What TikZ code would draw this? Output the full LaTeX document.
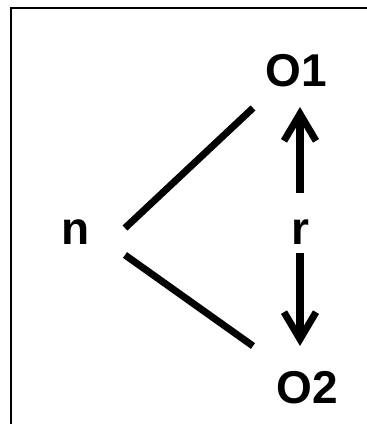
\documentclass[tikz,border=0pt]{standalone}
\usepackage{fontspec}
\setmainfont{Liberation Sans}
\usetikzlibrary{arrows.meta}
\begin{document}
\begin{tikzpicture}[x=1pt,y=-1pt,
  lbl/.style={font=\fontsize{46}{46}\selectfont\bfseries, inner sep=0pt},
  link/.style={line width=7pt},
  arr/.style={line width=7.5pt, -{Straight Barb[length=27pt,width=32pt,line width=7pt]}},
  frame/.style={line width=2.5pt}]
\useasboundingbox (0,0) rectangle (367,424);
\coordinate (fa) at (11,424);
\coordinate (fb) at (11,8);
\coordinate (fc) at (367,8);
\draw[frame] (fa) -- (fb) -- (fc);
\node[lbl] (n) at (76,232) {n};
\node[lbl] (o1) at (296,71) {O1};
\node[lbl] (o2) at (307,388) {O2};
\node[lbl] (r) at (300,232) {r};
\coordinate (u1) at (125,228);
\coordinate (u2) at (253,108);
\coordinate (l1) at (125,255);
\coordinate (l2) at (253,346);
\coordinate (a1) at (300,193);
\coordinate (a2) at (300,107);
\coordinate (b1) at (300,253);
\coordinate (b2) at (300,346);
\draw[link] (u1) -- (u2);
\draw[link] (l1) -- (l2);
\draw[arr] (a1) -- (a2);
\draw[arr] (b1) -- (b2);
\end{tikzpicture}
\end{document}
